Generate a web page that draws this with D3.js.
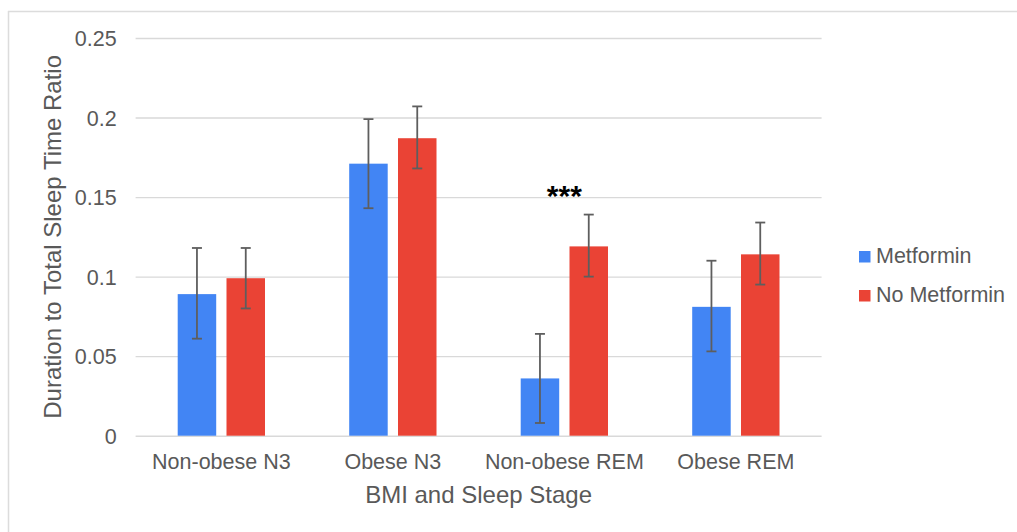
<!DOCTYPE html>
<html>
<head>
<meta charset="utf-8">
<script src="https://cdn.jsdelivr.net/npm/d3@7"></script>
<style>
  html, body { margin: 0; padding: 0; background: #fff; }
  svg { display: block; font-family: "Liberation Sans", Arial, sans-serif; }
</style>
</head>
<body>
<svg id="chart" width="1017" height="532"></svg>
<script>
const categories = ["Non-obese N3", "Obese N3", "Non-obese REM", "Obese REM"];
const seriesNames = ["Metformin", "No Metformin"];
const metformin = [0.089, 0.171, 0.036, 0.081];
const metforminLow = [0.061, 0.143, 0.008, 0.053];
const metforminHigh = [0.118, 0.199, 0.064, 0.110];
const noMetformin = [0.099, 0.187, 0.119, 0.114];
const noMetforminLow = [0.080, 0.168, 0.100, 0.095];
const noMetforminHigh = [0.118, 0.207, 0.139, 0.134];
const yTicks = [0, 0.05, 0.1, 0.15, 0.2, 0.25];
const annotations = [{ category: "Non-obese REM", text: "***", above: 0.139 }];
const colors = ["#4285f4", "#ea4335"];

const svg = d3.select("#chart");
const W = 1017, H = 532;
const plot = { left: 135.6, right: 821.6, top: 38, bottom: 435.7 };
const textColor = "#595959";

// border (top and left visible)
svg.append("line").attr("x1", 8).attr("x2", W).attr("y1", 11.5).attr("y2", 11.5)
  .attr("stroke", "#dcdcdc").attr("stroke-width", 1.5);
svg.append("line").attr("x1", 8.5).attr("x2", 8.5).attr("y1", 11).attr("y2", H)
  .attr("stroke", "#dcdcdc").attr("stroke-width", 1.5);

const y = d3.scaleLinear().domain([0, 0.25]).range([plot.bottom, plot.top]);
const x0 = d3.scaleBand().domain(categories).range([plot.left, plot.right]).paddingInner(0).paddingOuter(0);
const groupW = 87.3;
const off = (x0.bandwidth() - groupW) / 2;
const x1 = d3.scaleBand().domain(seriesNames).range([off, off + groupW]).paddingInner(0.211).paddingOuter(0);

// gridlines + y tick labels via axis
const yAxis = d3.axisLeft(y).tickValues(yTicks).tickFormat(d => String(d)).tickSize(-(plot.right - plot.left)).tickPadding(19);
const gy = svg.append("g").attr("transform", `translate(${plot.left},0)`).call(yAxis);
gy.select(".domain").remove();
gy.selectAll(".tick line").attr("stroke", "#d9d9d9").attr("stroke-width", 1.4);
gy.selectAll(".tick text").attr("fill", textColor).attr("font-size", 21.5)
  .attr("font-family", '"Liberation Sans", Arial, sans-serif').attr("dy", "0.36em");

// x axis labels
const xAxis = d3.axisBottom(x0).tickSize(0).tickPadding(0);
const gx = svg.append("g").attr("transform", `translate(0,${plot.bottom})`).call(xAxis);
gx.select(".domain").remove();
gx.selectAll(".tick text").attr("fill", textColor).attr("font-size", 21.5)
  .attr("font-family", '"Liberation Sans", Arial, sans-serif').attr("y", 33).attr("dy", 0);

// data table
const data = categories.map((c, i) => ({
  category: c,
  values: [
    { name: seriesNames[0], v: metformin[i], lo: metforminLow[i], hi: metforminHigh[i] },
    { name: seriesNames[1], v: noMetformin[i], lo: noMetforminLow[i], hi: noMetforminHigh[i] }
  ]
}));

const groups = svg.append("g").selectAll("g").data(data).join("g")
  .attr("transform", d => `translate(${x0(d.category)},0)`);

groups.selectAll("rect").data(d => d.values).join("rect")
  .attr("x", d => x1(d.name))
  .attr("width", x1.bandwidth())
  .attr("y", d => y(d.v))
  .attr("height", d => y(0) - y(d.v))
  .attr("fill", (d, i) => colors[i]);

const errColor = "#5e5e5e";
const capHalf = 5;
groups.selectAll("g.err").data(d => d.values).join("g").attr("class", "err")
  .each(function(d) {
    const g = d3.select(this);
    const cx = x1(d.name) + x1.bandwidth() / 2;
    g.append("line").attr("x1", cx).attr("x2", cx).attr("y1", y(d.hi)).attr("y2", y(d.lo))
      .attr("stroke", errColor).attr("stroke-width", 1.8);
    [d.hi, d.lo].forEach(v => {
      g.append("line").attr("x1", cx - capHalf).attr("x2", cx + capHalf).attr("y1", y(v)).attr("y2", y(v))
        .attr("stroke", errColor).attr("stroke-width", 1.8);
    });
  });

// annotation
svg.selectAll("text.annot").data(annotations).join("text").attr("class", "annot")
  .attr("x", d => x0(d.category) + x0.bandwidth() / 2)
  .attr("y", d => y(d.above) - 9)
  .attr("text-anchor", "middle")
  .attr("font-size", 30).attr("font-weight", "bold").attr("fill", "#000")
  .text(d => d.text);

// axis titles
svg.append("text")
  .attr("x", (plot.left + plot.right) / 2).attr("y", 503)
  .attr("text-anchor", "middle").attr("fill", textColor).attr("font-size", 24)
  .text("BMI and Sleep Stage");
svg.append("text")
  .attr("transform", `translate(61,${(plot.top + plot.bottom) / 2}) rotate(-90)`)
  .attr("text-anchor", "middle").attr("fill", textColor).attr("font-size", 24)
  .text("Duration to Total Sleep Time Ratio");

// legend
const legend = svg.append("g").attr("transform", "translate(859,251)");
const li = legend.selectAll("g").data(seriesNames).join("g")
  .attr("transform", (d, i) => `translate(0,${i * 39})`);
li.append("rect").attr("width", 11.5).attr("height", 11.5).attr("fill", (d, i) => colors[i]);
li.append("text").attr("x", 17).attr("y", 12).attr("fill", textColor).attr("font-size", 21.5).text(d => d);
</script>
</body>
</html>
